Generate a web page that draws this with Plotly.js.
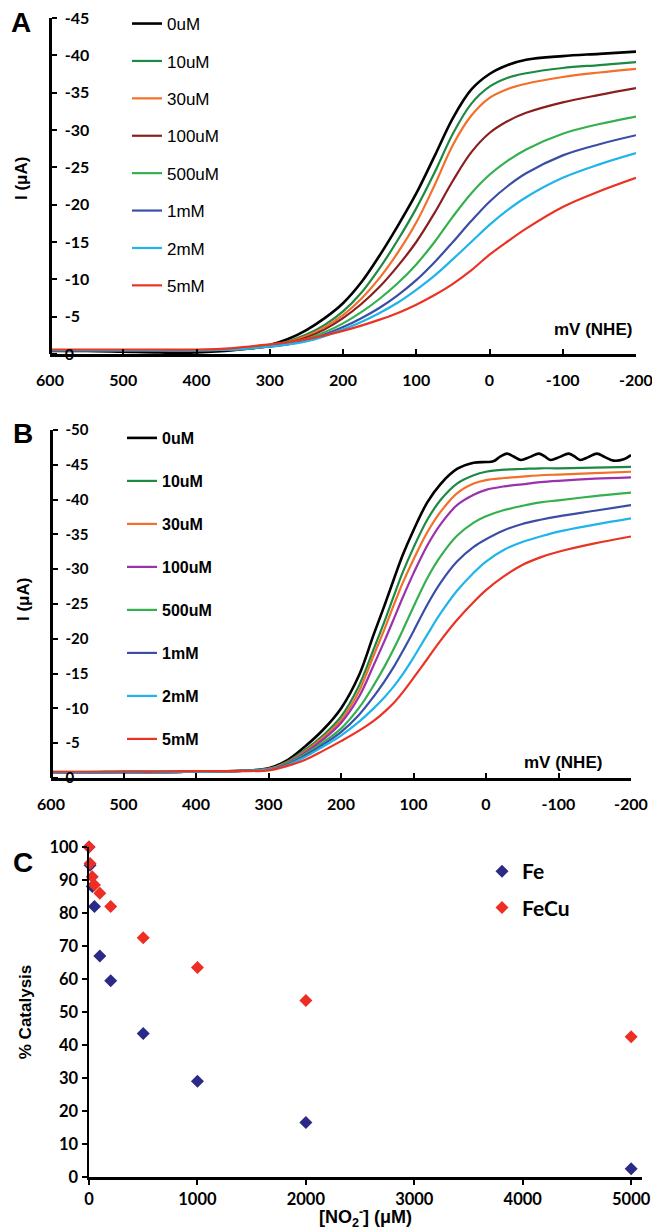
<!DOCTYPE html>
<html><head><meta charset="utf-8">
<script src="https://cdn.plot.ly/plotly-3.0.1.min.js"></script>
<style>html,body{margin:0;padding:0;background:#fff}#chart{width:652px;height:1230px}</style>
</head><body><div id="chart"></div>
<script>
// ---------- Panel A data (I in µA vs mV NHE) ----------
const potentialA = [600, 550, 500, 450, 400, 350, 300, 275, 250, 225, 200, 175, 150, 125, 100, 75, 50, 25, 0, -25, -50, -100, -150, -200];
const A_0uM   = [-0.4,-0.4,-0.3,-0.2,-0.2,-0.5,-1.2,-2.0,-3.2,-4.8,-6.8,-9.6,-13.2,-17.2,-21.5,-26.5,-31.6,-35.4,-37.5,-38.7,-39.4,-39.9,-40.2,-40.5];
const A_10uM  = [-0.5,-0.5,-0.5,-0.5,-0.5,-0.6,-1.1,-1.7,-2.6,-3.9,-5.7,-8.2,-11.5,-15.3,-19.5,-24.3,-29.5,-33.5,-35.8,-37.0,-37.6,-38.3,-38.7,-39.1];
const A_30uM  = [-0.5,-0.5,-0.5,-0.5,-0.5,-0.6,-1.0,-1.6,-2.4,-3.6,-5.2,-7.4,-10.2,-13.6,-17.6,-22.6,-28.0,-31.9,-34.3,-35.5,-36.2,-37.1,-37.7,-38.2];
const A_100uM = [-0.5,-0.5,-0.5,-0.5,-0.5,-0.6,-1.0,-1.5,-2.2,-3.3,-4.8,-6.7,-9.0,-11.8,-15.0,-18.9,-23.2,-27.0,-29.6,-31.2,-32.3,-33.7,-34.7,-35.6];
const A_500uM = [-0.5,-0.5,-0.5,-0.5,-0.5,-0.6,-1.0,-1.4,-2.0,-2.9,-4.1,-5.6,-7.4,-9.5,-12.0,-15.0,-18.4,-21.5,-24.0,-25.9,-27.4,-29.5,-30.8,-31.8];
const A_1mM   = [-0.5,-0.5,-0.5,-0.5,-0.5,-0.6,-1.0,-1.3,-1.8,-2.6,-3.6,-4.8,-6.2,-7.9,-9.9,-12.3,-15.0,-17.8,-20.4,-22.5,-24.2,-26.6,-28.1,-29.3];
const A_2mM   = [-0.5,-0.5,-0.5,-0.5,-0.5,-0.6,-1.0,-1.3,-1.7,-2.4,-3.3,-4.3,-5.5,-6.9,-8.6,-10.5,-12.7,-15.0,-17.3,-19.3,-21.0,-23.6,-25.4,-26.9];
const A_5mM   = [-0.6,-0.6,-0.6,-0.6,-0.6,-0.8,-1.3,-1.6,-2.0,-2.5,-3.1,-3.8,-4.6,-5.5,-6.6,-7.9,-9.4,-11.2,-13.3,-15.1,-16.8,-19.7,-21.8,-23.6];

// ---------- Panel B data ----------
const potentialB  = [600, 550, 500, 450, 400, 350, 300, 275, 250, 225, 200, 175, 155, 140, 127, 115, 100, 81, 63, 40, 17, 0, -25, -50, -75, -100, -150, -200];
const potentialB0 = [600, 550, 500, 450, 400, 350, 300, 275, 250, 225, 200, 175, 155, 140, 127, 115, 100, 81, 63, 40, 17, 0, -10, -20, -29, -38, -48, -60, -73, -81, -89, -101, -114, -122, -130, -141, -153, -164, -176, -190, -200];
const B_0uM   = [-0.8,-0.8,-0.9,-0.9,-0.9,-1.0,-1.4,-2.5,-4.5,-6.9,-10.0,-14.8,-20.6,-24.8,-28.6,-32.0,-35.6,-39.6,-42.2,-44.4,-45.3,-45.4,-45.5,-46.2,-46.6,-46.2,-45.7,-46.1,-46.6,-46.2,-45.7,-46.1,-46.6,-46.2,-45.7,-46.1,-46.6,-46.1,-45.6,-45.8,-46.4];
const B_10uM  = [-0.8,-0.8,-0.8,-0.8,-0.9,-1.0,-1.3,-2.3,-4.0,-6.1,-8.8,-13.3,-18.5,-22.5,-26.2,-29.5,-33.1,-37.1,-39.9,-42.3,-43.5,-44.0,-44.3,-44.4,-44.5,-44.5,-44.6,-44.7];
const B_30uM  = [-0.8,-0.8,-0.8,-0.8,-0.9,-1.0,-1.3,-2.2,-3.8,-5.8,-8.3,-12.5,-17.6,-21.4,-24.9,-28.0,-31.4,-35.3,-38.2,-40.9,-42.3,-42.8,-43.1,-43.3,-43.5,-43.6,-43.8,-44.0];
const B_100uM = [-0.8,-0.8,-0.8,-0.8,-0.9,-1.0,-1.2,-2.1,-3.6,-5.5,-7.9,-11.7,-16.2,-19.7,-22.9,-25.9,-29.4,-33.4,-36.4,-39.2,-40.7,-41.4,-41.9,-42.2,-42.5,-42.7,-43.0,-43.2];
const B_500uM = [-0.9,-0.9,-0.9,-0.8,-0.9,-1.0,-1.2,-2.0,-3.4,-5.1,-7.1,-10.1,-13.3,-16.0,-18.6,-21.2,-24.6,-28.7,-31.8,-34.8,-36.7,-37.6,-38.5,-39.1,-39.6,-39.9,-40.5,-41.0];
const B_1mM   = [-0.8,-0.8,-0.8,-0.8,-0.9,-1.0,-1.2,-1.9,-3.2,-4.8,-6.6,-9.1,-11.7,-13.9,-16.0,-18.2,-21.1,-24.9,-28.0,-31.1,-33.2,-34.3,-35.6,-36.5,-37.1,-37.6,-38.4,-39.2];
const B_2mM   = [-0.8,-0.8,-0.8,-0.8,-0.9,-1.0,-1.2,-1.8,-3.0,-4.5,-6.1,-8.1,-10.0,-11.6,-13.2,-14.9,-17.3,-20.6,-23.6,-26.9,-29.5,-31.1,-32.8,-33.9,-34.7,-35.4,-36.4,-37.3];
const B_5mM   = [-0.9,-0.9,-0.9,-0.9,-1.0,-1.0,-1.1,-1.7,-2.6,-3.9,-5.3,-6.8,-8.2,-9.5,-10.8,-12.3,-14.4,-17.1,-19.7,-22.7,-25.3,-27.0,-29.0,-30.6,-31.7,-32.5,-33.7,-34.7];

// ---------- Panel C data ----------
const nitriteConc = [0, 10, 30, 50, 100, 200, 500, 1000, 2000, 5000];
const catalysisFe   = [100, 94.5, 88, 82, 67, 59.5, 43.5, 29, 16.5, 2.5];
const catalysisFeCu = [100, 95, 91, 88.5, 86, 82, 72.5, 63.5, 53.5, 42.5];

// ---------- labels / ticks ----------
const labelsA = ['0uM','10uM','30uM','100uM','500uM','1mM','2mM','5mM'];
const labelsB = ['0uM','10uM','30uM','100uM','500uM','1mM','2mM','5mM'];
const seriesLabelsC = ['Fe','FeCu'];
const potentialTicks = [600, 500, 400, 300, 200, 100, 0, -100, -200];
const potentialTickText = ['600','500','400','300','200','100','0','-100','-200'];
const currentTicksA = [0,-5,-10,-15,-20,-25,-30,-35,-40,-45];
const currentTickTextA = ['0','-5','-10','-15','-20','-25','-30','-35','-40','-45'];
const currentTicksB = [0,-5,-10,-15,-20,-25,-30,-35,-40,-45,-50];
const currentTickTextB = ['0','-5','-10','-15','-20','-25','-30','-35','-40','-45','-50'];
const concTicks = [0,1000,2000,3000,4000,5000];
const pctTicks = [0,10,20,30,40,50,60,70,80,90,100];

// ---------- styles ----------
const colorsA = ['#000000','#1d8a44','#f36f2a','#8b1e1e','#35b04f','#3b4ea6','#1fb4ea','#ea3323'];
const colorsB = ['#000000','#1d8a44','#f36f2a','#9a31ad','#35b04f','#3b4ea6','#1fb4ea','#ea3323'];
const W = 652, H = 1230;
const fx = p => p / W, fy = p => 1 - p / H;
const TICKF = 'Lato, "Open Sans", sans-serif';
const ARIAL = '"Liberation Sans", Arial, sans-serif';

const traces = [];
const seriesA = [A_0uM, A_10uM, A_30uM, A_100uM, A_500uM, A_1mM, A_2mM, A_5mM];
seriesA.forEach((ys, i) => traces.push({
  x: potentialA, y: ys, xaxis: 'x', yaxis: 'y', type: 'scatter', mode: 'lines',
  name: labelsA[i], legend: 'legend', legendgroup: 'a' + i,
  line: {color: colorsA[i], width: i === 0 ? 2.6 : 2.2, shape: 'spline', smoothing: 1}
}));
const seriesB = [B_0uM, B_10uM, B_30uM, B_100uM, B_500uM, B_1mM, B_2mM, B_5mM];
seriesB.forEach((ys, i) => traces.push({
  x: i === 0 ? potentialB0 : potentialB, y: ys, xaxis: 'x2', yaxis: 'y2', type: 'scatter', mode: 'lines',
  name: labelsB[i], legend: 'legend2', legendgroup: 'b' + i,
  line: {color: colorsB[i], width: i === 0 ? 2.6 : 2.2, shape: 'spline', smoothing: 1}
}));
traces.push({x: nitriteConc, y: catalysisFe, xaxis: 'x3', yaxis: 'y3', type: 'scatter', mode: 'markers',
  name: seriesLabelsC[0], legend: 'legend3', legendgroup: 'c0', cliponaxis: false,
  marker: {symbol: 'diamond', size: 10, color: '#2b2a86'}});
traces.push({x: nitriteConc, y: catalysisFeCu, xaxis: 'x3', yaxis: 'y3', type: 'scatter', mode: 'markers',
  name: seriesLabelsC[1], legend: 'legend3', legendgroup: 'c1', cliponaxis: false,
  marker: {symbol: 'diamond', size: 10, color: '#ee2d24'}});

const baseAxis = {showgrid: false, zeroline: false, showline: true, linecolor: '#000', linewidth: 2.5,
  tickcolor: '#000', tickwidth: 2, ticklen: 5, automargin: false};
const tickFontV = s => ({family: TICKF, size: s, weight: 'bold', color: '#000'});
const boldArial = s => ({family: ARIAL, size: s, weight: 'bold', color: '#000'});

const layout = {
  width: W, height: H, margin: {l: 0, r: 0, t: 0, b: 0},
  paper_bgcolor: '#fff', plot_bgcolor: '#fff', showlegend: true,
  xaxis: Object.assign({}, baseAxis, {domain: [fx(50), fx(636)], range: [600, -200], anchor: 'y',
    tickmode: 'array', tickvals: potentialTicks, ticktext: potentialTickText, ticks: 'inside',
    ticklabelstandoff: 10, ticklabeloverflow: 'allow', tickfont: tickFontV(16)}),
  yaxis: Object.assign({}, baseAxis, {domain: [fy(354), fy(18)], range: [0, -45], anchor: 'free', position: fx(50), side: 'right',
    tickmode: 'array', tickvals: currentTicksA, ticktext: currentTickTextA, ticks: 'outside',
    ticklabelstandoff: 5, ticklabeloverflow: 'allow', tickfont: tickFontV(16)}),
  xaxis2: Object.assign({}, baseAxis, {domain: [fx(51), fx(631)], range: [600, -200], anchor: 'y2',
    tickmode: 'array', tickvals: potentialTicks, ticktext: potentialTickText, ticks: 'inside',
    ticklabelstandoff: 10, ticklabeloverflow: 'allow', tickfont: tickFontV(16)}),
  yaxis2: Object.assign({}, baseAxis, {domain: [fy(778), fy(430)], range: [0, -50], anchor: 'free', position: fx(51), side: 'right',
    tickmode: 'array', tickvals: currentTicksB, ticktext: currentTickTextB, ticks: 'outside',
    ticklabelstandoff: 5, ticklabeloverflow: 'allow', tickfont: tickFontV(15)}),
  xaxis3: Object.assign({}, baseAxis, {domain: [fx(89), fx(642)], range: [0, 5100], anchor: 'y3',
    tickmode: 'array', tickvals: concTicks, ticks: 'outside', ticklabelstandoff: 1,
    tickfont: tickFontV(16.5),
    title: {text: '[NO<sub>2</sub><sup>-</sup>] (μM)', standoff: 6, font: boldArial(18)}}),
  yaxis3: Object.assign({}, baseAxis, {domain: [fy(1177), fy(847)], range: [0, 100], anchor: 'x3',
    tickmode: 'array', tickvals: pctTicks, ticks: 'outside', ticklabelstandoff: 0,
    tickfont: tickFontV(16.5),
    title: {text: '% Catalysis', standoff: 14, font: boldArial(17)}}),
  legend: {x: fx(127), y: fy(6), xanchor: 'left', yanchor: 'top', bgcolor: 'rgba(0,0,0,0)', borderwidth: 0,
    traceorder: 'grouped', tracegroupgap: 12.3, itemwidth: 30,
    font: {family: ARIAL, size: 17, color: '#000'}},
  legend2: {x: fx(122), y: fy(421), xanchor: 'left', yanchor: 'top', bgcolor: 'rgba(0,0,0,0)', borderwidth: 0,
    traceorder: 'grouped', tracegroupgap: 19.2, itemwidth: 30,
    font: {family: ARIAL, size: 16, weight: 'bold', color: '#000'}},
  legend3: {x: fx(482), y: fy(851), xanchor: 'left', yanchor: 'top', bgcolor: 'rgba(0,0,0,0)', borderwidth: 0,
    traceorder: 'grouped', tracegroupgap: 6, itemwidth: 30,
    font: {family: TICKF, size: 21, weight: 'bold', color: '#000'}},
  annotations: [
    {text: 'A', x: fx(21), y: fy(23)},
    {text: 'B', x: fx(23), y: fy(433)},
    {text: 'C', x: fx(23), y: fy(862)}
  ].map(a => Object.assign(a, {xref: 'paper', yref: 'paper', xanchor: 'center', yanchor: 'middle', showarrow: false, font: boldArial(28)}))
  .concat([
    {text: 'mV (NHE)', x: fx(593), y: fy(329)},
    {text: 'mV (NHE)', x: fx(563), y: fy(762)}
  ].map(a => Object.assign(a, {xref: 'paper', yref: 'paper', xanchor: 'center', yanchor: 'middle', showarrow: false, font: boldArial(17)})))
  .concat([
    {text: 'I (μA)', x: fx(22), y: fy(179)},
    {text: 'I (μA)', x: fx(23), y: fy(600)}
  ].map(a => Object.assign(a, {xref: 'paper', yref: 'paper', xanchor: 'center', yanchor: 'middle', textangle: -90, showarrow: false, font: boldArial(17)})))
};

Plotly.newPlot('chart', traces, layout, {displayModeBar: false, staticPlot: true});
</script></body></html>
